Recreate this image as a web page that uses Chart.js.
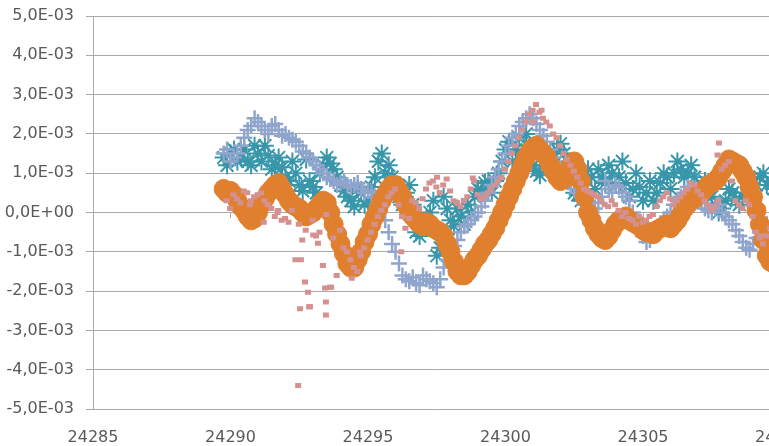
<!DOCTYPE html>
<html>
<head>
<meta charset="utf-8">
<script src="https://cdn.jsdelivr.net/npm/chart.js@4/dist/chart.umd.min.js"></script>
<style>
  html, body { margin: 0; padding: 0; background: #ffffff; overflow: hidden; }
  #wrap { width: 825px; height: 446px; }
</style>
</head>
<body>
<div id="wrap"><canvas id="c" width="825" height="446"></canvas></div>
<script>
// Sample times on the quarter grid
const times = [
  24289.75, 24290.00, 24290.25, 24290.50, 24290.75, 24291.00, 24291.25, 24291.50, 24291.75, 24292.00,
  24292.25, 24292.50, 24292.75, 24293.00, 24293.25, 24293.50, 24293.75, 24294.00, 24294.25, 24294.50,
  24294.75, 24295.00, 24295.25, 24295.50, 24295.75, 24296.00, 24296.25, 24296.50, 24296.75, 24297.00,
  24297.25, 24297.50, 24297.75, 24298.00, 24298.25, 24298.50, 24298.75, 24299.00, 24299.25, 24299.50,
  24299.75, 24300.00, 24300.25, 24300.50, 24300.75, 24301.00, 24301.25, 24301.50, 24301.75, 24302.00,
  24302.25, 24302.50, 24302.75, 24303.00, 24303.25, 24303.50, 24303.75, 24304.00, 24304.25, 24304.50,
  24304.75, 24305.00, 24305.25, 24305.50, 24305.75, 24306.00, 24306.25, 24306.50, 24306.75, 24307.00,
  24307.25, 24307.50, 24307.75, 24308.00, 24308.25, 24308.50, 24308.75, 24309.00, 24309.25, 24309.50,
  24309.75, 24310.00
];
// Sample times between the quarter grid points
const timesMid = [
  24289.875, 24290.125, 24290.375, 24290.625, 24290.875, 24291.125, 24291.375, 24291.625, 24291.875, 24292.125,
  24292.375, 24292.625, 24292.875, 24293.125, 24293.375, 24293.625, 24293.875, 24294.125, 24294.375, 24294.625,
  24294.875, 24295.125, 24295.375, 24295.625, 24295.875, 24296.125, 24296.375, 24296.625, 24296.875, 24297.125,
  24297.375, 24297.625, 24297.875, 24298.125, 24298.375, 24298.625, 24298.875, 24299.125, 24299.375, 24299.625,
  24299.875, 24300.125, 24300.375, 24300.625, 24300.875, 24301.125, 24301.375, 24301.625, 24301.875, 24302.125,
  24302.375, 24302.625, 24302.875, 24303.125, 24303.375, 24303.625, 24303.875, 24304.125, 24304.375, 24304.625,
  24304.875, 24305.125, 24305.375, 24305.625, 24305.875, 24306.125, 24306.375, 24306.625, 24306.875, 24307.125,
  24307.375, 24307.625, 24307.875, 24308.125, 24308.375, 24308.625, 24308.875, 24309.125, 24309.375, 24309.625,
  24309.875
];

// Values in units of 1E-03
const tealA = [
  1.4, 1.5, 1.3, 1.6, 1.2, 1.5, 1.7, 1.1, 1.4, 0.9,
  1.3, 0.7, 1.35, 0.65, 1.0, 1.4, 1.1, 0.7, 0.4, 0.15,
  0.5, 0.3, 0.9, 1.5, 1.2, 0.6, 0.2, 0.7, -0.5, -0.3,
  0.0, -1.1, 0.4, -0.2, 0.1, -0.3, 0.0, 0.6, 0.75, 0.5,
  1.0, 1.6, 1.3, 1.9, 2.0, 1.2, 0.95, 1.15, 1.5, 1.75,
  1.3, 0.5, 0.3, 1.1, 0.6, 0.9, 1.2, 0.7, 1.3, 0.4,
  1.0, 0.3, 0.8, 0.5, 1.0, 0.6, 1.3, 0.9, 1.2, 0.6,
  0.8, 0.4, 0.0, 0.3, 0.5, 0.2, 0.5, 0.3, 0.9, 0.7,
  0.6, 0.5
];
const tealB = [
  1.2, 1.6, 1.4, 1.3, 1.7, 1.3, 1.45, 1.2, 1.15, 0.8,
  1.0, 0.55, 0.8, 0.5, 1.2, 1.25, 0.9, 0.55, 0.3, 0.6,
  0.2, 0.65, 1.3, 1.0, 0.9, 0.4, 0.5, 0.2, -0.6, -0.15,
  0.3, -0.9, 0.1, -0.35, -0.1, 0.2, 0.4, 0.55, 0.8, 0.8,
  1.3, 1.8, 1.6, 1.5, 1.7, 1.05, 1.2, 1.3, 1.6, 1.5,
  0.8, 0.45, 0.6, 0.9, 1.1, 0.75, 1.0, 0.9, 0.75, 0.6,
  0.65, 0.5, 0.3, 0.75, 0.9, 1.0, 1.1, 1.0, 0.9, 0.45,
  0.65, 0.2, 0.1, 0.6, 0.35, 0.4, 0.6, 0.7, 1.0, 0.8,
  0.7
];
const blueA = [
  1.5, 1.3, 1.5, 1.9, 2.2, 2.3, 2.1, 2.2, 2.1, 2.0,
  1.85, 1.7, 1.5, 1.3, 1.1, 0.9, 0.8, 0.75, 0.7, 0.7,
  0.6, 0.55, 0.4, 0.2, -0.5, -1.0, -1.6, -1.75, -1.8, -1.6,
  -1.75, -1.9, -1.4, -1.0, -0.7, -0.35, -0.2, 0.0, 0.3, 0.7,
  1.1, 1.5, 1.9, 2.2, 2.4, 2.4, 2.1, 1.8, 1.4, 1.1,
  0.8, 0.6, 0.4, 0.3, 0.1, 0.4, 0.6, 0.7, 0.5, 0.3,
  -0.2, -0.6, -0.7, -0.5, -0.2, 0.0, 0.3, 0.5, 0.55, 0.4,
  0.1, 0.0, 0.2, -0.1, -0.3, -0.6, -0.9, -0.8, -0.5, -0.3,
  -0.4, -0.5
];
const blueB = [
  1.6, 1.4, 1.7, 2.1, 2.4, 2.2, 2.0, 2.25, 1.95, 1.9,
  1.8, 1.55, 1.4, 1.2, 1.0, 0.85, 0.7, 0.8, 0.65, 0.75,
  0.5, 0.5, 0.3, -0.2, -0.8, -1.3, -1.7, -1.65, -1.85, -1.7,
  -1.8, -1.7, -1.2, -0.85, -0.5, -0.3, -0.1, 0.15, 0.5, 0.9,
  1.3, 1.7, 2.0, 2.3, 2.5, 2.25, 1.95, 1.6, 1.25, 0.95,
  0.7, 0.5, 0.2, 0.0, 0.25, 0.8, 0.5, 0.65, 0.4, 0.0,
  -0.4, -0.75, -0.6, -0.35, -0.1, 0.2, 0.4, 0.65, 0.5, 0.25,
  0.05, 0.1, 0.0, -0.2, -0.45, -0.75, -0.95, -0.65, -0.4, -0.5,
  -0.6
];
const orangeA = [
  0.6, 0.55, 0.3, 0.05, -0.2, 0.0, 0.35, 0.6, 0.75, 0.45,
  0.2, 0.1, -0.1, 0.0, 0.2, 0.25, -0.3, -0.8, -1.3, -1.4,
  -1.0, -0.55, -0.1, 0.3, 0.6, 0.7, 0.4, 0.0, -0.2, -0.35,
  -0.3, -0.45, -0.6, -1.0, -1.5, -1.6, -1.35, -1.1, -0.8, -0.55,
  -0.2, 0.2, 0.6, 1.0, 1.4, 1.65, 1.6, 1.4, 1.05, 0.8,
  1.0, 1.3, 0.8, 0.0, -0.4, -0.65, -0.6, -0.3, -0.15, -0.2,
  -0.3, -0.45, -0.5, -0.45, -0.35, -0.4, -0.2, 0.1, 0.3, 0.45,
  0.6, 0.75, 0.9, 1.2, 1.3, 1.2, 0.9, 0.4, -0.3, -1.1,
  -1.3, -1.0
];
const orangeB = [
  0.5, 0.45, 0.15, -0.1, -0.15, 0.2, 0.5, 0.7, 0.6, 0.3,
  0.15, 0.0, -0.05, 0.1, 0.3, 0.0, -0.55, -1.05, -1.4, -1.2,
  -0.75, -0.3, 0.1, 0.45, 0.7, 0.55, 0.2, -0.1, -0.3, -0.25,
  -0.4, -0.5, -0.8, -1.25, -1.6, -1.5, -1.2, -0.95, -0.7, -0.4,
  0.0, 0.4, 0.8, 1.2, 1.55, 1.7, 1.5, 1.2, 0.9, 0.85,
  1.2, 1.1, 0.4, -0.2, -0.55, -0.7, -0.45, -0.2, -0.1, -0.25,
  -0.35, -0.5, -0.55, -0.4, -0.3, -0.3, -0.05, 0.2, 0.35, 0.5,
  0.7, 0.8, 1.05, 1.35, 1.25, 1.05, 0.65, 0.05, -0.7, -1.25,
  -1.15
];
const pinkA = [
  0.3, 0.45, 0.25, 0.5, 0.4, 0.5, 0.2, -0.1, -0.2, -0.25,
  -1.2, -0.7, -2.4, -0.6, -1.35, -1.9, -1.6, -0.9, -1.2, -1.5,
  -0.9, -0.5, -0.1, 0.2, 0.5, 0.2, -0.4, 0.3, 0.1, 0.6,
  0.8, 0.5, 0.85, 0.3, 0.15, 0.4, 0.8, 0.35, 0.5, 0.7,
  0.9, 1.3, 1.7, 2.1, 2.5, 2.75, 2.4, 2.2, 1.9, 1.5,
  1.2, 0.9, 0.6, 0.5, 0.4, 0.2, 0.3, 0.05, 0.0, -0.2,
  -0.1, -0.2, -0.05, 0.3, 0.5, 0.2, 0.4, 0.6, 0.7, 0.45,
  0.2, 0.15, 1.1, 1.3, 0.3, 0.1, 0.2, -0.5, -0.8, -0.4,
  -0.2, -0.3
];
const pinkB = [
  0.1, 0.35, 0.55, 0.3, 0.45, 0.3, 0.1, 0.05, -0.15, 0.05,
  -0.3, -0.45, -0.2, -0.5, -0.05, -0.65, -0.45, -1.0, -1.4, -1.1,
  -0.7, -0.3, 0.05, 0.4, 0.6, -0.1, -0.15, 0.25, 0.35, 0.75,
  0.65, 0.7, 0.55, 0.25, 0.3, 0.6, 0.45, 0.4, 0.6, 0.8,
  1.1, 1.5, 1.9, 2.3, 2.6, 2.55, 2.3, 2.0, 1.7, 1.35,
  1.05, 0.75, 0.55, 0.45, 0.3, 0.15, 0.2, -0.1, -0.15, -0.3,
  -0.25, -0.1, 0.15, 0.4, 0.35, 0.3, 0.5, 0.75, 0.55, 0.3,
  0.05, 0.3, 1.2, 0.8, 0.2, 0.3, -0.1, -0.65, -0.6, -0.3,
  -0.25
];
// Off-grid readings of the pink series
const pinkExtraTimes = [
  24290.6, 24291.1, 24291.6, 24292.35, 24292.42, 24292.45, 24292.6, 24292.71, 24292.78, 24292.9,
  24293.07, 24293.33, 24293.36, 24293.36, 24293.55, 24294.3, 24294.6, 24296.1, 24297.4, 24298.7,
  24300.9, 24301.2, 24307.6, 24307.65, 24309.2
];
const pinkExtraValues = [
  0.2, -0.25, 0.0, -4.4, -2.45, -1.2, -1.77, -2.03, -2.4, -0.57,
  -0.78, -1.92, -2.28, -2.61, -1.9, -1.67, -1.0, -1.0, 0.9, 0.88,
  2.3, 2.6, 1.46, 1.77, -0.6
];

const xTickStep = 5;
const yTickStep = 0.001;
const UNIT = 1e-3;

function toPoints(xs, ys) {
  return xs.map((x, i) => ({ x: x, y: ys[i] * UNIT }));
}

function sciLabel(v) {
  if (Math.abs(v) < 1e-12) return '0,0E+00';
  const parts = v.toExponential(1).split('e');
  const exp = parseInt(parts[1], 10);
  return parts[0].replace('.', ',') + 'E' + (exp < 0 ? '-' : '+') + String(Math.abs(exp)).padStart(2, '0');
}

const gridGray = '#a9a9a9';
const textGray = '#595959';
const tickFont = { family: 'DejaVu Sans', size: 16 };

new Chart(document.getElementById('c'), {
  type: 'scatter',
  data: {
    datasets: [
      {
        label: 'Series 4',
        data: toPoints(times, pinkA).concat(toPoints(timesMid, pinkB), toPoints(pinkExtraTimes, pinkExtraValues)),
        pointStyle: 'dash', pointRadius: 6, borderWidth: 5,
        borderColor: '#d4918f', backgroundColor: '#d4918f',
        order: 0
      },
      {
        label: 'Series 3',
        data: toPoints(times, orangeA).concat(toPoints(timesMid, orangeB)),
        pointStyle: 'circle', pointRadius: 9.5, borderWidth: 1,
        borderColor: '#e0802f', backgroundColor: '#e0802f',
        order: 1
      },
      {
        label: 'Series 2',
        data: toPoints(times, blueA).concat(toPoints(timesMid, blueB)),
        pointStyle: 'cross', pointRadius: 8, borderWidth: 2.5,
        borderColor: '#8fa5cc', backgroundColor: '#8fa5cc',
        order: 2
      },
      {
        label: 'Series 1',
        data: toPoints(times, tealA).concat(toPoints(timesMid, tealB)),
        pointStyle: 'star', pointRadius: 9, borderWidth: 2,
        borderColor: '#3896aa', backgroundColor: '#3896aa',
        order: 3
      }
    ]
  },
  options: {
    responsive: false,
    devicePixelRatio: 1,
    animation: false,
    events: [],
    layout: { padding: 0 },
    plugins: { legend: { display: false }, tooltip: { enabled: false } },
    scales: {
      x: {
        type: 'linear',
        position: 'bottom',
        min: 24285,
        max: 24310,
        grid: { display: false, drawTicks: false },
        border: { display: false },
        ticks: {
          stepSize: xTickStep,
          color: textGray,
          font: tickFont,
          padding: 19,
          maxRotation: 0,
          callback: v => String(v)
        },
        afterFit: s => { s.height = 37; }
      },
      xCross: {
        type: 'linear',
        axis: 'x',
        position: { y: 0 },
        min: 24285,
        max: 24310,
        grid: { display: true, drawOnChartArea: false, drawTicks: true, tickLength: 5, color: gridGray },
        border: { display: false },
        ticks: { display: false, stepSize: xTickStep },
        afterFit: s => { s.height = 0; }
      },
      y: {
        type: 'linear',
        min: -0.005,
        max: 0.005,
        grid: { color: gridGray, lineWidth: 1, tickLength: 7 },
        border: { display: true, color: gridGray, width: 1 },
        ticks: {
          stepSize: yTickStep,
          color: textGray,
          font: tickFont,
          padding: 12,
          callback: v => sciLabel(v)
        },
        afterFit: s => { s.width = 93; s.paddingTop = 16; s.paddingBottom = 0; }
      }
    }
  }
});
</script>
</body>
</html>
